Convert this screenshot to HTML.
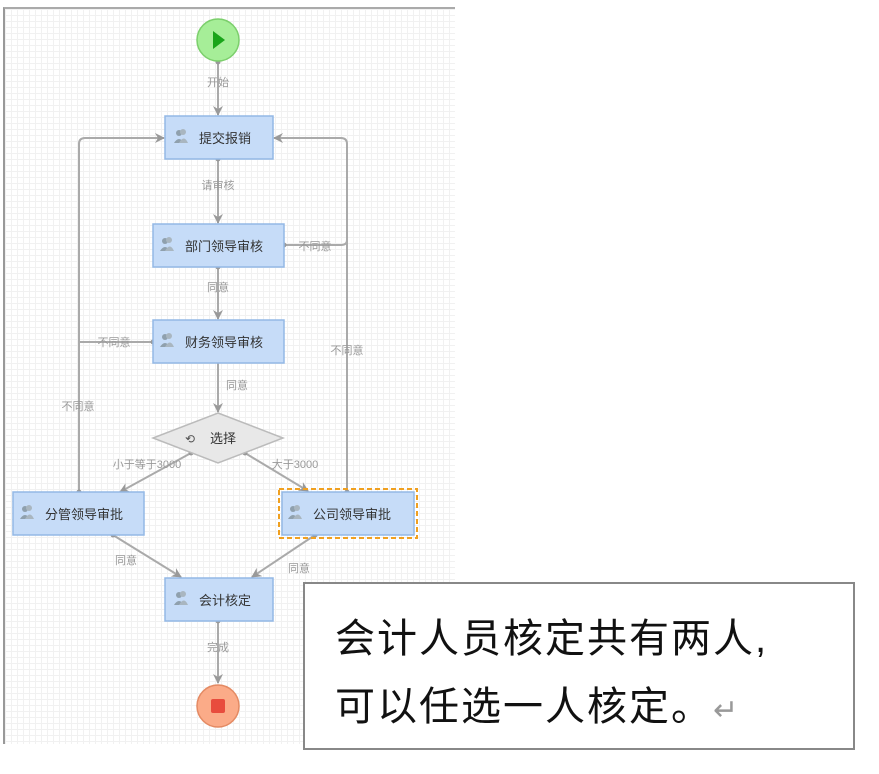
<!DOCTYPE html>
<html><head><meta charset="utf-8"><style>
body{margin:0;width:879px;height:774px;background:#fff;position:relative;overflow:hidden;font-family:"Liberation Sans","Noto Sans CJK SC",sans-serif}
.canvas{position:absolute;left:3px;top:7px;width:450px;height:735px;border-left:2px solid #999;border-top:2px solid #aaa;
background-color:#fff;background-image:linear-gradient(#f1f1f1 1px,transparent 1px),linear-gradient(90deg,#f1f1f1 1px,transparent 1px);background-size:6px 6px}
.box{position:absolute;left:303px;top:582px;width:552px;height:168px;border:2px solid #888;background:#fff;box-sizing:border-box}
.box div{position:absolute;left:30px;font-size:40px;color:#111;white-space:nowrap;letter-spacing:2px}
</style></head><body>
<div class="canvas"></div>
<svg width="879" height="774" style="position:absolute;left:0;top:0" font-family="Liberation Sans,Noto Sans CJK SC,sans-serif">
<defs><marker id="a" markerWidth="10" markerHeight="10" refX="9" refY="5" orient="auto" markerUnits="userSpaceOnUse"><path d="M0,0 L10,5 L0,10 L3,5z" fill="#999"/></marker>
<g id="u" fill="#8fa0ad"><circle cx="4" cy="-4" r="3"/><path d="M-1,6 Q4,-2 9,6z"/><circle cx="8" cy="-5" r="3" fill="#a9b6c0"/><path d="M4,6 Q9,-3 13,6z" fill="#a9b6c0"/></g></defs>
<g stroke="#aaa" stroke-width="2" fill="none">
<line x1="218" y1="62" x2="218" y2="115" marker-end="url(#a)"/>
<line x1="218" y1="159" x2="218" y2="223" marker-end="url(#a)"/>
<line x1="218" y1="267" x2="218" y2="319" marker-end="url(#a)"/>
<line x1="218" y1="363" x2="218" y2="412" marker-end="url(#a)"/>
<path d="M79,492 V144 Q79,138 85,138 H164" marker-end="url(#a)"/>
<line x1="153" y1="342" x2="79" y2="342"/>
<path d="M347,492 V144 Q347,138 341,138 H274" marker-end="url(#a)"/>
<path d="M284,245 H341 Q347,245 347,240"/>
<line x1="191" y1="453" x2="120" y2="492" marker-end="url(#a)"/>
<line x1="245" y1="453" x2="308" y2="491" marker-end="url(#a)"/>
<line x1="113" y1="535" x2="181" y2="577" marker-end="url(#a)"/>
<line x1="315" y1="535" x2="252" y2="577" marker-end="url(#a)"/>
<line x1="218" y1="621" x2="218" y2="683" marker-end="url(#a)"/>
</g>
<g fill="#999"><circle cx="218" cy="62" r="2.5"/><circle cx="218" cy="159" r="2.5"/><circle cx="218" cy="267" r="2.5"/><circle cx="284" cy="245" r="2.5"/><circle cx="153" cy="342" r="2.5"/><circle cx="79" cy="492" r="2.5"/><circle cx="347" cy="492" r="2.5"/><circle cx="191" cy="453" r="2.5"/><circle cx="245" cy="453" r="2.5"/><circle cx="113" cy="535" r="2.5"/><circle cx="315" cy="535" r="2.5"/><circle cx="218" cy="621" r="2.5"/></g>
<circle cx="218" cy="40" r="21" fill="#a6ee98" stroke="#7ccf6c" stroke-width="1.5"/>
<path d="M213,31 L225,40 L213,49z" fill="#1aa51a"/>
<circle cx="218" cy="706" r="21" fill="#fbab88" stroke="#e48a63" stroke-width="1.5"/>
<rect x="211" y="699" width="14" height="14" rx="2" fill="#e84c3d"/>
<g fill="#c6dcf8" stroke="#93b8e6" stroke-width="1.5">
<rect x="165" y="116" width="108" height="43"/>
<rect x="153" y="224" width="131" height="43"/>
<rect x="153" y="320" width="131" height="43"/>
<rect x="13" y="492" width="131" height="43"/>
<rect x="282" y="492" width="132" height="43"/>
<rect x="165" y="578" width="108" height="43"/>
</g>
<rect x="279" y="489" width="138" height="49" fill="none" stroke="#f0a020" stroke-width="2" stroke-dasharray="5,3"/>
<polygon points="218,413 283,438 218,463 153,438" fill="#e8e8e8" stroke="#bbb" stroke-width="1.5"/>
<g font-size="13" fill="#333">
<text x="199" y="143">提交报销</text>
<text x="185" y="251">部门领导审核</text>
<text x="185" y="347">财务领导审核</text>
<text x="45" y="519">分管领导审批</text>
<text x="313" y="519">公司领导审批</text>
<text x="199" y="605">会计核定</text>
<text x="210" y="443">选择</text>
</g>
<use href="#u" x="175" y="137"/><use href="#u" x="161" y="245"/><use href="#u" x="161" y="341"/><use href="#u" x="21" y="513"/><use href="#u" x="289" y="513"/><use href="#u" x="175" y="599"/>
<text x="185" y="443" font-size="12" fill="#555">⟲</text>
<g font-size="11" fill="#999" text-anchor="middle">
<text x="218" y="86">开始</text><text x="218" y="189">请审核</text><text x="218" y="291">同意</text><text x="237" y="389">同意</text>
<text x="315" y="250">不同意</text><text x="114" y="346">不同意</text><text x="78" y="410">不同意</text><text x="347" y="354">不同意</text>
<text x="147" y="468">小于等于3000</text><text x="295" y="468">大于3000</text>
<text x="126" y="564">同意</text><text x="299" y="572">同意</text><text x="218" y="651">完成</text>
</g>
</svg>
<div class="box"><div style="top:22px">会计人员核定共有两人,</div><div style="top:90px">可以任选一人核定。<span style="color:#999;font-size:30px">↵</span></div></div>
</body></html>
